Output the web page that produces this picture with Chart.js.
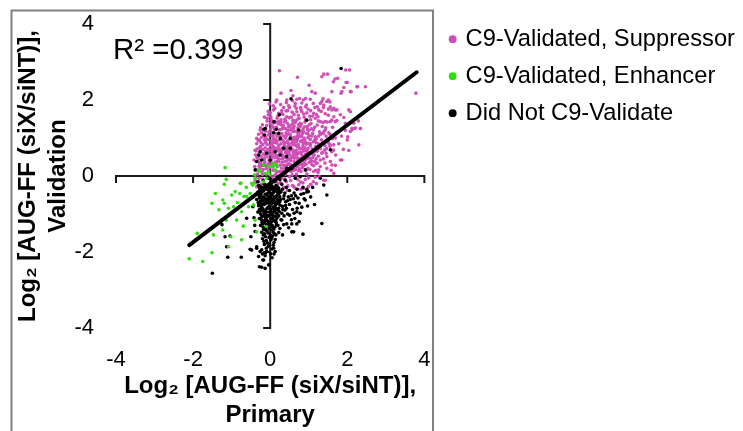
<!DOCTYPE html>
<html>
<head>
<meta charset="utf-8">
<script src="https://cdn.jsdelivr.net/npm/chart.js@4.4.1/dist/chart.umd.min.js"></script>
<style>
  html, body { margin: 0; padding: 0; background: #ffffff; }
  canvas { display: block; }
</style>
</head>
<body>
<canvas id="chart" width="743" height="431"></canvas>
<script>
// Log2 fold change (siX/siNT), primary screen (x) vs validation screen (y)

const seriesNames = ['C9-Validated, Suppressor', 'C9-Validated, Enhancer', 'Did Not C9-Validate'];
const seriesColors = ['#d04fb7', '#34dc14', '#000000'];

const tickValues = [-4, -2, 0, 2, 4];
const r2Value = 0.399;

// least-squares fit line, drawn between these two points
const fitX = [-2.1, 3.8];
const fitY = [-1.82, 2.73];

const suppressorPts = [
  [0.24,2.77],[0.71,2.60],[1.34,2.61],[1.39,2.68],[1.68,2.55],[1.96,2.79],[1.97,2.46],[2.25,2.35],[2.47,2.35],[2.10,2.22],
  [1.84,2.18],[1.60,2.22],[1.64,2.48],[1.01,2.39],[1.08,2.22],[1.17,2.18],[0.92,2.04],[0.76,2.04],[0.54,2.25],[0.65,1.91],
  [1.37,2.03],[1.47,1.96],[1.30,1.91],[1.56,1.82],[2.04,1.74],[1.82,1.61],[1.69,1.74],[2.17,1.39],[2.34,1.25],[2.17,1.25],
  [2.01,1.03],[2.30,0.82],[2.04,0.67],[1.82,0.42],[1.64,0.68],[1.56,0.82],[1.26,0.16],[1.22,0.34],[1.43,-0.11],[0.99,-0.28],
  [0.86,-0.32],[0.74,-0.23],[0.61,-0.28],[3.78,2.18],[0.09,1.74],[-0.08,1.52],[-0.26,1.21],[-0.35,0.99],[-0.39,0.68],[-0.42,0.42],
  [-0.36,0.16],[-0.39,-0.11],[-0.35,-0.28],[0.28,2.18],[0.43,2.00],[0.17,2.00],[0.59,2.11],[0.42,1.93],[0.69,2.02],[0.86,2.00],
  [1.04,2.02],[0.94,1.87],[0.30,1.72],[0.50,1.80],[0.69,1.69],[0.82,1.69],[1.13,1.65],[1.26,1.74],[1.38,1.80],[1.51,2.00],
  [1.60,1.74],[1.73,1.74],[1.30,1.43],[1.43,1.43],[1.56,1.43],[1.69,1.43],[1.17,1.52],[0.22,1.43],[0.43,1.56],[0.59,1.47],
  [0.78,1.39],[0.95,1.30],[-0.05,1.61],[-0.12,1.25],[0.07,1.39],[2.06,2.79],[1.49,2.68],[1.75,2.57],[2.00,2.46],[1.91,2.33],
  [2.08,2.22],[2.27,2.35],[1.86,2.22],[1.34,1.96],[1.39,1.87],[1.12,1.91],[1.51,1.76],[1.65,1.78],[2.08,1.69],[1.91,1.54],
  [1.65,1.56],[1.51,1.60],[1.73,1.46],[1.60,1.47],[2.29,1.45],[2.12,1.21],[2.21,1.26],[2.08,1.17],[2.12,1.25],[2.34,1.25],
  [1.95,1.39],[1.65,0.82],[1.69,1.00],[1.60,0.64],[1.47,0.51],[1.56,0.38],[1.60,0.29],[1.69,0.28],[1.47,0.20],[1.86,0.42],
  [1.65,0.07],[1.39,-0.11],[1.34,0.60],[1.52,0.86],[1.43,1.21],[1.32,1.12],
  [-0.05,1.70],[0.12,1.78],[0.30,1.65],[0.45,1.72],[0.62,1.62],[0.80,1.75],[0.95,1.66],[1.10,1.58],[0.20,1.58],[0.55,1.55],
  [0.72,1.50],[0.38,1.50],[0.02,1.55],[0.88,1.55],[1.20,1.62],
  [-0.20,1.35],[-0.08,1.45],[0.05,1.30],[0.15,1.42],[0.28,1.35],[0.40,1.45],[0.50,1.32],[0.65,1.40],[0.78,1.30],[0.90,1.42],
  [1.02,1.35],[1.15,1.28],[1.25,1.45],[0.33,1.28],[0.60,1.25],[0.85,1.22],[0.12,1.22],[-0.12,1.18],[0.45,1.20],[0.70,1.18],
  [1.00,1.20],[1.35,1.30],
  [-0.30,1.10],[-0.22,1.02],[-0.05,1.08],[0.05,1.15],[0.18,1.05],[0.30,1.12],[0.40,1.00],[0.52,1.10],[0.62,1.02],[0.75,1.08],
  [0.88,1.00],[0.95,1.12],[1.08,1.05],[1.20,0.98],[1.30,1.10],[1.45,1.05],[0.25,0.95],[0.08,0.98],[-0.15,0.95],[0.58,0.92],
  [0.82,0.90],[1.12,0.90],[0.35,0.90],[0.70,0.95],
  [-0.35,0.85],[-0.25,0.78],[-0.12,0.88],[0.00,0.80],[0.10,0.88],[0.20,0.75],[0.28,0.85],[0.38,0.78],[0.48,0.85],[0.55,0.72],
  [0.65,0.82],[0.75,0.75],[0.85,0.80],[0.98,0.72],[1.05,0.85],[1.18,0.78],[1.30,0.72],[1.42,0.80],[-0.05,0.70],[0.15,0.68],
  [0.42,0.68],[0.90,0.68],[1.22,0.65],
  [-0.38,0.55],[-0.30,0.45],[-0.18,0.58],[-0.08,0.50],[0.05,0.60],[0.12,0.48],[0.22,0.55],[0.32,0.45],[0.45,0.58],[0.55,0.48],
  [0.65,0.55],[0.72,0.42],[0.82,0.55],[0.92,0.45],[1.00,0.58],[1.10,0.48],[1.25,0.52],[1.38,0.45],[0.28,0.62],[0.60,0.62],
  [0.02,0.40],[0.38,0.38],[0.78,0.38],[1.15,0.38],
  [-0.40,0.25],[-0.32,0.15],[-0.22,0.28],[-0.10,0.20],[0.00,0.30],[0.08,0.15],[0.18,0.25],[0.25,0.12],[0.35,0.28],[0.45,0.18],
  [0.52,0.30],[0.62,0.15],[0.70,0.25],[0.80,0.12],[0.88,0.28],[0.98,0.20],[1.08,0.30],[1.18,0.15],[1.30,0.25],[0.40,0.05],
  [0.15,0.05],[0.68,0.05],[0.95,0.05],
  [-0.38,-0.05],[-0.30,-0.15],[-0.20,-0.08],[0.10,-0.10],[0.20,-0.20],[0.30,-0.05],[0.42,-0.15],[0.50,-0.02],[0.58,-0.25],
  [0.72,-0.10],[0.85,-0.18],[1.00,-0.05],[1.12,-0.15],[0.35,-0.30],[0.65,-0.32],
  [-0.28,0.62],[-0.20,0.70],[-0.15,0.42],[-0.05,0.32],[0.05,0.72],[0.12,0.58],[0.18,0.92],[0.22,0.38],[0.30,0.68],[0.35,1.05],
  [0.42,0.88],[0.48,0.32],[0.52,0.78],[0.58,1.18],[0.62,0.38],[0.68,0.68],[0.72,1.12],[0.78,0.62],[0.82,1.05],[0.88,0.35],
  [0.92,0.88],[0.96,1.30],[1.02,0.62],[1.06,0.40],[0.08,1.05],[0.25,1.22],[0.45,1.38],[0.15,0.32],[0.32,0.55],[0.50,0.65],
  [0.68,0.90],[0.85,0.65],[-0.25,0.35],[-0.12,0.65],[0.02,0.92],[0.38,0.20],[0.55,0.12],[0.75,0.30],[0.92,0.58],[1.15,0.65],
  [-0.32,0.72],[-0.28,0.95],[-0.18,1.22],[0.00,1.38],[0.28,1.48],[0.60,1.42],[0.75,1.52],[1.05,1.48],[-0.36,0.38],[-0.10,0.05],
  [0.05,-0.05],[0.25,0.02],[0.48,0.45],[0.70,0.48],[0.90,0.95],[1.10,1.12],[1.25,0.85],[1.35,0.62],[1.45,0.60],[1.50,0.92],
  [1.40,1.18],[1.55,1.10],[0.22,1.65],[0.48,1.85],[0.68,1.78],[0.92,1.82],[1.05,1.72],[0.35,1.80],[-0.02,1.90],[0.15,1.95],
  [0.58,1.98],[0.82,1.92],[1.22,1.82],[1.32,1.70],[1.48,1.42],[1.62,1.28],[1.72,1.15],[1.62,0.98],[1.78,0.85],[1.55,0.78],
  [1.85,1.05],[1.95,1.20],[2.00,0.95],[1.90,0.70],[1.70,0.55],[1.58,0.15],[1.28,-0.02],[1.20,-0.20],
  [-0.33,0.05],[-0.27,0.32],[-0.21,0.12],[-0.16,0.47],[-0.11,0.27],[-0.04,0.13],[0.03,0.44],[0.07,0.24],[0.13,0.37],[0.19,0.11],
  [0.24,0.44],[0.29,0.21],[0.34,0.09],[0.39,0.49],[0.44,0.31],[0.49,0.14],[0.53,0.41],[0.58,0.22],[0.63,0.47],[0.67,0.33],
  [0.73,0.14],[0.77,0.46],[0.83,0.22],[0.87,0.41],[0.93,0.31],[0.97,0.47],[1.03,0.17],[1.07,0.39],[1.13,0.27],[1.19,0.45],
  [1.24,0.09],[0.31,0.36],[0.57,0.03],[0.11,0.02],[-0.26,0.20],
  [-0.37,0.66],[-0.31,0.93],[-0.24,0.52],[-0.19,0.83],[-0.13,0.74],[-0.07,0.96],[-0.02,0.57],[0.04,0.84],[0.09,0.66],[0.14,0.97],
  [0.17,0.53],[0.23,0.81],[0.27,0.59],[0.33,0.94],[0.37,0.71],[0.41,0.53],[0.46,0.93],[0.51,0.74],[0.56,0.86],[0.61,0.56],
  [0.64,0.97],[0.69,0.78],[0.74,0.61],[0.79,0.91],[0.84,0.73],[0.89,0.52],[0.94,0.84],[0.99,0.63],[1.04,0.96],[1.09,0.71],
  [1.14,0.55],[1.19,0.88],[1.27,0.74],[1.33,0.95],[1.41,0.68],[0.21,0.66],[0.47,0.62],[0.71,0.99],
  [-0.25,1.27],[-0.17,1.08],[-0.09,1.33],[-0.03,1.16],[0.03,1.47],[0.10,1.27],[0.16,1.11],[0.21,1.37],[0.26,1.04],[0.31,1.24],
  [0.36,1.42],[0.41,1.13],[0.47,1.29],[0.53,1.03],[0.57,1.36],[0.63,1.17],[0.67,1.46],[0.72,1.26],[0.77,1.04],[0.81,1.37],
  [0.87,1.16],[0.92,1.48],[0.97,1.22],[1.01,1.06],[1.06,1.38],[1.12,1.21],[1.17,1.03],[1.22,1.34],[1.28,1.16],[1.37,1.41],
  [1.44,1.27],[1.52,1.14],
  [-0.15,1.55],[0.00,1.66],[0.08,1.85],[0.18,1.52],[0.27,1.88],[0.33,1.62],[0.41,1.71],[0.49,1.53],[0.57,1.68],[0.64,1.84],
  [0.73,1.60],[0.79,1.80],[0.87,1.63],[0.98,1.76],[1.03,1.57],[1.16,1.80],[1.24,1.56],[1.43,1.64],[1.55,1.95],
  [-0.37,-0.18],[-0.29,-0.06],[-0.23,-0.22],[0.16,-0.12],[0.27,-0.18],[0.38,-0.08],[0.46,-0.26],[0.53,-0.12],[0.66,-0.05],
  [0.79,-0.16],[0.91,-0.09],[1.05,-0.22],[1.17,-0.03],[0.45,-0.38],[0.80,-0.35],
  [-0.34,0.48],[-0.29,0.26],[-0.24,0.88],[-0.20,0.04],[-0.14,0.36],[-0.12,1.02],[-0.06,0.62],[-0.01,0.22],[0.02,1.24],[0.06,0.52],
  [0.08,0.78],[0.11,1.40],[0.14,0.14],[0.17,0.86],[0.20,0.46],[0.23,1.13],[0.26,0.29],[0.29,0.96],[0.32,0.74],[0.34,1.33],
  [0.37,0.14],[0.40,0.62],[0.43,1.07],[0.44,0.41],[0.47,0.79],[0.50,1.21],[0.52,0.22],[0.55,0.97],[0.57,0.51],[0.60,0.82],
  [0.62,1.31],[0.64,0.27],[0.66,0.63],[0.69,1.04],[0.71,0.37],[0.73,0.83],[0.76,0.19],[0.78,1.17],[0.80,0.59],[0.83,0.94],
  [0.86,0.28],[0.88,1.29],[0.90,0.74],[0.93,0.15],[0.95,0.53],[0.98,1.01],[1.01,0.36],[1.04,0.79],[1.07,1.24],[1.10,0.58],
  [1.13,0.12],[1.16,0.95],[1.20,0.33],[1.23,0.71],[1.26,1.05],[1.30,0.42],[1.34,0.84],[1.38,1.12],[1.42,0.34],[1.46,0.72],
  [-0.31,0.38],[-0.27,0.73],[-0.22,1.14],[-0.18,0.17],[-0.13,0.55],[-0.08,0.83],[-0.03,0.41],[0.01,0.68],[0.04,1.06],[0.07,0.33],
  [0.10,0.91],[0.13,0.73],[0.16,1.28],[0.19,0.39],[0.24,0.71],[0.27,1.41],[0.30,0.13],[0.33,0.48],[0.36,0.83],[0.39,1.25],
  [0.42,0.27],[0.45,0.72],[0.48,1.11],[0.51,0.56],[0.54,0.28],[0.56,1.26],[0.59,0.68],[0.63,0.90],[0.66,0.18],[0.70,0.57],
  [0.74,1.35],[0.77,0.71],[0.81,0.31],[0.84,1.12],[0.87,0.86],[0.91,0.42],[0.94,0.66],[0.97,1.12],[1.00,0.86],[1.03,0.47]
];

const enhancerPts = [
  [-1.17,0.22],[-1.14,-0.09],[-1.19,-0.22],[-0.78,-0.19],[-1.42,-0.46],[-1.51,-0.72],[-1.23,-0.63],[-1.19,-0.72],[-1.00,-0.50],
  [-0.91,-0.41],[-0.79,-0.46],[-0.68,-0.54],[-0.61,-0.54],[-0.52,-0.46],[-0.45,-0.24],[-1.33,-0.89],[-1.08,-0.85],[-0.95,-0.81],
  [-0.74,-0.94],[-0.56,-0.81],[-1.14,-1.16],[-0.87,-1.16],[-0.70,-1.32],[-1.23,-1.42],[-1.02,-1.60],[-1.47,-1.55],[-1.89,-1.51],
  [-0.74,-1.68],[-1.08,-1.86],[-1.51,-2.02],[-1.75,-2.25],[-2.10,-2.18],
  [-0.13,0.07],[-0.04,0.11],[0.04,0.25],[0.09,0.33],[0.17,0.28],[-0.09,-0.06],[-0.17,-0.15],[-0.43,-0.19],[-0.39,-0.06],
  [-0.26,0.11],[0.13,0.16],[0.00,0.03],[-0.76,-0.19],[-0.17,0.29],[-0.04,0.25],[0.13,0.29],[-0.30,0.16],[-0.40,0.03],
  [-0.48,-0.19],[-0.43,-0.76],[-0.39,-1.16],[-0.35,-1.47],[-0.10,-1.33],[-0.62,-0.30],[-0.85,-0.70]
];

const notValidatedPts = [
  [-0.30,-0.25],[-0.22,-0.30],[-0.15,-0.22],[-0.08,-0.28],[0.00,-0.20],[0.08,-0.30],[0.15,-0.25],[0.22,-0.32],[0.30,-0.22],
  [-0.32,-0.42],[-0.25,-0.48],[-0.18,-0.40],[-0.10,-0.50],[-0.02,-0.42],[0.05,-0.50],[0.12,-0.40],[0.20,-0.48],[0.28,-0.42],[0.38,-0.45],
  [-0.35,-0.62],[-0.28,-0.58],[-0.20,-0.65],[-0.12,-0.60],[-0.05,-0.68],[0.02,-0.58],[0.10,-0.65],[0.18,-0.60],[0.25,-0.68],[0.35,-0.60],[0.45,-0.65],
  [-0.30,-0.78],[-0.22,-0.82],[-0.15,-0.75],[-0.08,-0.85],[0.00,-0.78],[0.08,-0.82],[0.15,-0.75],[0.22,-0.85],[0.32,-0.80],[0.40,-0.78],
  [-0.32,-0.95],[-0.25,-1.00],[-0.18,-0.92],[-0.10,-1.02],[-0.02,-0.95],[0.05,-1.00],[0.12,-0.92],[0.20,-1.02],[0.30,-0.98],
  [-0.28,-1.12],[-0.20,-1.18],[-0.12,-1.10],[-0.05,-1.20],[0.02,-1.12],[0.10,-1.18],[0.18,-1.10],[0.28,-1.15],
  [-0.25,-1.30],[-0.18,-1.35],[-0.10,-1.28],[-0.02,-1.38],[0.05,-1.30],[0.12,-1.35],[0.20,-1.30],
  [-0.22,-1.48],[-0.15,-1.52],[-0.08,-1.45],[0.00,-1.55],[0.08,-1.48],[0.15,-1.55],
  [-0.20,-1.65],[-0.10,-1.70],[0.02,-1.68],[0.10,-1.75],[-0.15,-1.80],[-0.05,-1.85],[0.05,-1.92],
  [-0.26,-0.35],[-0.12,-0.35],[0.02,-0.35],[0.18,-0.35],[-0.20,-0.55],[-0.05,-0.55],[0.10,-0.55],[0.25,-0.55],[-0.25,-0.70],
  [-0.10,-0.72],[0.05,-0.72],[0.20,-0.72],[-0.28,-0.88],[-0.12,-0.90],[0.02,-0.88],[0.18,-0.88],[-0.22,-1.05],[-0.08,-1.08],
  [0.08,-1.05],[-0.15,-1.22],[0.00,-1.25],[0.15,-1.22],[-0.12,-1.42],[0.05,-1.42],[-0.32,-0.15],[-0.18,-0.12],[0.00,-0.08],
  [0.12,-0.15],[0.25,-0.10],
  [-0.27,-0.27],[-0.19,-0.33],[-0.11,-0.24],[-0.04,-0.31],[0.04,-0.26],[0.11,-0.33],[0.19,-0.29],
  [-0.29,-0.51],[-0.23,-0.44],[-0.16,-0.57],[-0.07,-0.46],[0.01,-0.52],[0.08,-0.44],[0.16,-0.53],[0.23,-0.46],
  [-0.26,-0.66],[-0.18,-0.74],[-0.09,-0.63],[-0.01,-0.73],[0.07,-0.62],[0.13,-0.70],[0.21,-0.64],
  [-0.24,-0.86],[-0.16,-0.97],[-0.06,-0.84],[0.03,-0.97],[0.10,-0.86],[0.16,-0.98],
  [-0.21,-1.07],[-0.13,-1.15],[-0.03,-1.05],[0.06,-1.14],[0.13,-1.06],
  [-0.19,-1.26],[-0.07,-1.33],[0.03,-1.21],[0.09,-1.40],[-0.17,-1.41],
  [-0.12,-1.60],[-0.03,-1.62],[0.06,-1.58],[-0.08,-1.76],
  [-0.28,-0.31],[-0.21,-0.38],[-0.14,-0.29],[-0.06,-0.37],[0.03,-0.30],[0.09,-0.38],[0.17,-0.27],[0.24,-0.39],
  [-0.27,-0.55],[-0.21,-0.60],[-0.13,-0.48],[-0.04,-0.61],[0.04,-0.46],[0.12,-0.58],[0.19,-0.43],[0.27,-0.62],
  [-0.31,-0.70],[-0.23,-0.76],[-0.14,-0.68],[-0.03,-0.80],[0.05,-0.67],[0.12,-0.79],[0.19,-0.67],[0.26,-0.77],
  [-0.26,-0.93],[-0.19,-0.86],[-0.10,-0.95],[-0.01,-0.85],[0.08,-0.95],[0.14,-0.84],[0.23,-0.93],
  [-0.24,-1.14],[-0.16,-1.04],[-0.08,-1.17],[0.00,-1.03],[0.07,-1.10],[0.15,-1.16],[0.22,-1.05],
  [-0.21,-1.22],[-0.11,-1.37],[-0.04,-1.27],[0.07,-1.35],[0.16,-1.28],[-0.18,-1.55],[-0.06,-1.50],[0.04,-1.63],[0.11,-1.52],
  [-0.16,-1.72],[-0.02,-1.78],[0.08,-1.82],[-0.09,-1.98],[0.01,-2.05],[-0.20,-2.05],
  [0.32,-0.35],[0.36,-0.52],[0.40,-0.68],[0.47,-0.55],[0.52,-0.62],[0.33,-0.88],[0.42,-0.85],[0.36,-1.05],[0.60,-0.60],
  [0.66,-0.52],[0.75,-0.72],[0.82,-0.82],[0.48,-1.36],[0.25,-1.38],[0.32,-1.55],[0.64,-1.12],[0.75,-1.20],
  [0.42,-0.30],[0.50,-0.38],[0.55,-0.52],[0.62,-0.45],[0.70,-0.35],[0.50,-0.75],[0.58,-0.88],[0.65,-0.70],[0.72,-0.58],
  [0.80,-0.48],[0.88,-0.60],[0.95,-0.42],[0.45,-1.00],[0.55,-1.15],[0.62,-0.98],[0.70,-0.85],[0.78,-0.98],[0.69,-0.94],
  [0.87,-0.46],[0.99,-0.41],[0.91,-0.63],[0.97,-0.79],[0.43,-1.26],[0.56,-1.26],[0.69,-1.26],[0.50,-1.03],[0.30,-1.16],
  [0.35,-1.28],[0.22,-1.49],[0.56,-1.47],[0.61,-1.47],[0.85,-1.53],[1.47,-0.50],[1.34,-1.25],[1.05,-0.55],[1.15,-0.75],
  [0.85,-0.30],[0.38,-0.90],[0.95,-0.35],[1.10,-0.30],
  [0.13,-1.67],[0.09,-1.90],[0.13,-1.99],[-0.13,-2.10],[-0.10,-1.90],[-0.22,-2.40],[-0.17,-2.21],[-0.26,-1.99],[-0.48,-1.95],
  [-0.35,-1.90],[-0.28,-2.39],[-0.13,-2.43],[-0.04,-2.34],[-0.19,-2.21],[-0.30,-2.12],[-0.22,-1.94],[-0.13,-2.03],[0.05,-2.15],
  [0.10,-2.05],
  [-0.61,-1.11],[-1.25,-1.28],[-1.17,-1.60],[-1.04,-1.58],[-1.13,-1.86],[-0.52,-1.93],[-0.75,-2.14],[-1.10,-2.14],[-0.35,-1.86],
  [-0.39,-1.46],[-0.45,-0.81],[-1.50,-2.56],[-0.42,-1.10],[-0.45,-0.55],[-0.40,-1.30],[-0.50,-1.60],
  [-0.26,0.64],[-0.30,0.55],[-0.22,0.42],[-0.17,0.29],[0.00,0.42],[0.13,0.64],[0.26,0.55],[0.43,0.51],[0.52,0.73],[0.35,0.73],
  [0.43,0.20],[0.56,0.20],[0.65,-0.06],[0.78,-0.02],[0.91,0.16],[1.30,-0.06],[1.39,-0.24],[-0.09,0.60],[-0.35,0.38],[-0.39,0.16],
  [-0.06,-0.06],[0.39,-0.11],[-0.13,1.25],[-0.15,1.08],[0.09,1.14],[0.22,1.12],[0.26,0.99],[0.52,0.99],[0.74,1.21],[0.95,1.47],
  [1.56,0.69],[1.84,2.83],[0.54,2.03],[0.24,1.61],[0.10,1.43],[-0.16,1.23],[0.16,1.23]
];

const toXY = pts => pts.map(p => ({ x: p[0], y: p[1] }));
const axisMin = tickValues[0];
const axisMax = tickValues[tickValues.length - 1];
const FONT = '"Liberation Sans", Arial, Helvetica, sans-serif';

Chart.defaults.font.family = FONT;
Chart.defaults.color = '#000000';

// axes that cross at the origin, with outward tick marks
const crossAxes = {
  id: 'crossAxes',
  beforeDatasetsDraw(chart) {
    const { ctx, scales: { x, y } } = chart;
    const x0 = x.getPixelForValue(0);
    const y0 = y.getPixelForValue(0);
    ctx.save();
    ctx.strokeStyle = '#1a1a1a';
    ctx.lineWidth = 2;
    ctx.beginPath();
    ctx.moveTo(x.getPixelForValue(axisMin), y0);
    ctx.lineTo(x.getPixelForValue(axisMax), y0);
    ctx.moveTo(x0, y.getPixelForValue(axisMax));
    ctx.lineTo(x0, y.getPixelForValue(axisMin));
    tickValues.forEach(v => {
      if (v === 0) return;
      const px = x.getPixelForValue(v);
      ctx.moveTo(px, y0 - 1);
      ctx.lineTo(px, y0 + 7);
      const py = y.getPixelForValue(v);
      ctx.moveTo(x0 + 1, py);
      ctx.lineTo(x0 - 7, py);
    });
    ctx.stroke();
    ctx.restore();
  }
};

// R² annotation and the panel frame
const panelDecor = {
  id: 'panelDecor',
  afterDraw(chart) {
    const { ctx } = chart;
    ctx.save();
    ctx.fillStyle = '#000000';
    ctx.font = '29.5px ' + FONT;
    ctx.textBaseline = 'alphabetic';
    ctx.textAlign = 'left';
    ctx.fillText('R\u00B2 =' + r2Value.toFixed(3), 113, 59);
    ctx.strokeStyle = '#808080';
    ctx.lineWidth = 2;
    ctx.beginPath();
    ctx.moveTo(11.5, 440);
    ctx.lineTo(11.5, 10.5);
    ctx.lineTo(433, 10.5);
    ctx.lineTo(433, 440);
    ctx.stroke();
    ctx.restore();
  }
};

const pointDefaults = { pointStyle: 'circle', pointRadius: 1.8, pointBorderWidth: 0, pointHoverRadius: 1.8 };

new Chart(document.getElementById('chart'), {
  type: 'scatter',
  data: {
    datasets: [
      { label: seriesNames[0], data: toXY(suppressorPts), backgroundColor: seriesColors[0], borderColor: seriesColors[0], order: 3, yAxisID: 'y', ...pointDefaults },
      { label: seriesNames[1], data: toXY(enhancerPts), backgroundColor: seriesColors[1], borderColor: seriesColors[1], order: 1, yAxisID: 'y', ...pointDefaults },
      { label: seriesNames[2], data: toXY(notValidatedPts), backgroundColor: seriesColors[2], borderColor: seriesColors[2], order: 2, yAxisID: 'y', ...pointDefaults },
      {
        label: 'fit', type: 'line', yAxisID: 'y', order: 0,
        data: fitX.map((v, i) => ({ x: v, y: fitY[i] })),
        borderColor: '#000000', borderWidth: 4, borderCapStyle: 'round',
        pointRadius: 0, pointHoverRadius: 0, fill: false
      }
    ]
  },
  options: {
    responsive: false,
    devicePixelRatio: 1,
    animation: false,
    events: [],
    layout: { padding: { top: 14, left: 0, right: -2, bottom: 0 } },
    scales: {
      x: {
        type: 'linear', position: 'bottom', min: axisMin, max: axisMax,
        afterBuildTicks: s => { s.ticks = tickValues.map(v => ({ value: v })); },
        afterFit: s => { s.height = 103; },
        grid: { display: false, drawTicks: true, tickLength: 19 },
        border: { display: false },
        ticks: { font: { size: 22 }, color: '#000000', padding: 0 },
        title: {
          display: true,
          text: ['Log\u2082 [AUG-FF (siX/siNT)],', 'Primary'],
          font: { size: 24, weight: 'bold', lineHeight: 1.2 },
          color: '#000000',
          padding: { top: 0, bottom: 1 }
        }
      },
      y: {
        type: 'linear', position: 'left', min: axisMin, max: axisMax,
        afterBuildTicks: s => { s.ticks = tickValues.map(v => ({ value: v })); },
        afterFit: s => { s.width = 116; },
        grid: { display: false, drawTicks: true, tickLength: 22 },
        border: { display: false },
        ticks: { font: { size: 22 }, color: '#000000', padding: 0 },
        title: {
          display: true,
          text: ['Log\u2082 [AUG-FF (siX/siNT)],', 'Validation'],
          font: { size: 24, weight: 'bold', lineHeight: 1.25 },
          color: '#000000',
          padding: { top: 13, bottom: 0 }
        }
      },
      yR: {
        type: 'linear', position: 'right', display: true,
        grid: { display: false, drawTicks: false },
        border: { display: false },
        ticks: { display: false },
        afterFit: s => { s.width = 14; }
      }
    },
    plugins: {
      title: { display: true, text: '', padding: 0, font: { size: 10, lineHeight: 1 } },
      tooltip: { enabled: false },
      legend: {
        position: 'right',
        align: 'start',
        maxWidth: 330,
        labels: {
          usePointStyle: true,
          boxWidth: 2,
          boxHeight: 5.6,
          padding: 13.3,
          color: '#000000',
          font: { size: 23.7 },
          filter: item => item.datasetIndex < 3,
          sort: (a, b) => a.datasetIndex - b.datasetIndex
        }
      }
    }
  },
  plugins: [crossAxes, panelDecor]
});
</script>
</body>
</html>
